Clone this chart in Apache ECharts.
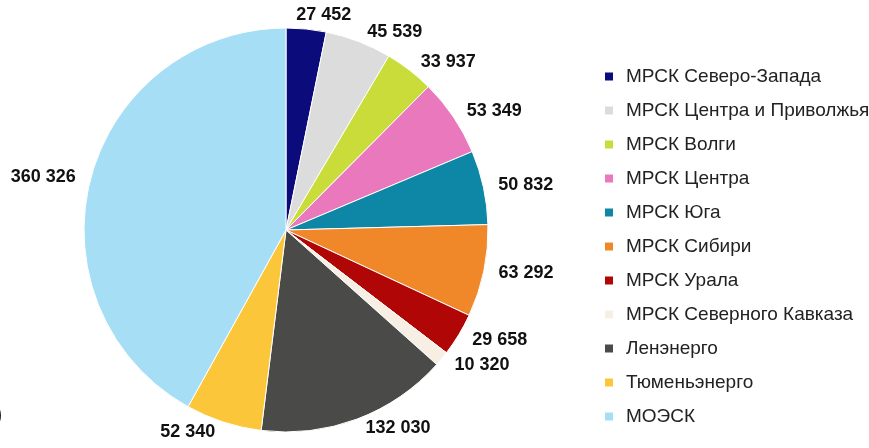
<!DOCTYPE html>
<html>
<head>
<meta charset="utf-8">
<script src="https://cdn.jsdelivr.net/npm/echarts@6/dist/echarts.min.js"></script>
<style>html,body{margin:0;padding:0;background:#fff}#c{width:869px;height:448px}</style>
</head>
<body>
<div id="c"></div>
<script>
const categories = ['МРСК Северо-Запада','МРСК Центра и Приволжья','МРСК Волги','МРСК Центра','МРСК Юга','МРСК Сибири','МРСК Урала','МРСК Северного Кавказа','Ленэнерго','Тюменьэнерго','МОЭСК'];
const values = [27452, 45539, 33937, 53349, 50832, 63292, 29658, 10320, 132030, 52340, 360326];
const colors = ['#0b0b7c','#dcdcdc','#c9dc3a','#ea78bc','#0e86a6','#f0882a','#b00606','#f7eee4','#4a4a48','#fcc63a','#a6def6'];

const chart = echarts.init(document.getElementById('c'));
const fmt = v => String(v).replace(/\B(?=(\d{3})+(?!\d))/g, ' ');
chart.setOption({
  animation: false,
  color: colors,
  legend: {
    orient: 'vertical',
    left: 598,
    top: 62,
    itemWidth: 10,
    itemHeight: 10,
    itemGap: 15,
    icon: 'rect',
    data: categories,
    textStyle: { fontFamily: 'Liberation Sans, Arial', fontSize: 19, color: '#222', padding: [0,0,0,7] }
  },
  graphic: [{
    type: 'text', x: -5, y: 404,
    style: { text: ')', font: '22px Liberation Sans, Arial', fill: '#111' }
  }],
  series: [{
    type: 'pie',
    center: [286, 230],
    radius: 202,
    startAngle: 90,
    clockwise: true,
    avoidLabelOverlap: false,
    itemStyle: { borderColor: '#fff', borderWidth: 1 },
    label: {
      show: true,
      position: 'outside',
      formatter: p => fmt(p.value),
      fontFamily: 'Liberation Sans, Arial',
      fontWeight: 'bold',
      fontSize: 18,
      color: '#111'
    },
    labelLayout: p => (p.dataIndex === 0 ? { hideOverlap: false, dx: -16, dy: -4 } : { hideOverlap: false }),
    labelLine: { show: false, length: 10, length2: 0 },
    data: categories.map((n, i) => ({ name: n, value: values[i] }))
  }]
});
</script>
</body>
</html>
